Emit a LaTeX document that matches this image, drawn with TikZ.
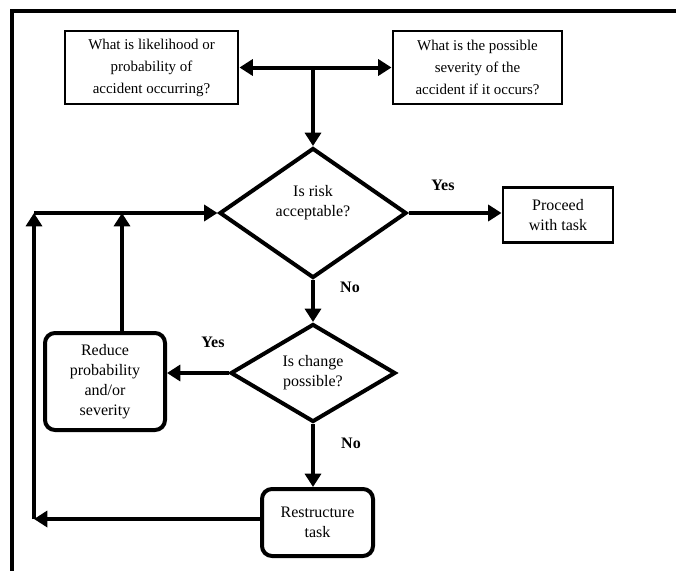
\documentclass[tikz,border=0pt]{standalone}
\usepackage{fontspec}
\setmainfont{Liberation Serif}
\usepackage{tikz}
\usetikzlibrary{arrows.meta, shapes.geometric}

\begin{document}
\begin{tikzpicture}[x=0.75pt,y=-0.75pt,line width=3pt,>={Triangle[length=10pt,width=12pt]},
  font=\fontsize{12}{15}\selectfont,
  plain box/.style={rectangle,draw,line width=2.2pt,align=center,inner sep=0pt},
  round box/.style={rectangle,draw,rounded corners=7.5pt,align=center,inner sep=0pt},
  test/.style={diamond,draw,shape aspect=1.6,align=center,inner sep=0pt},
  question/.style={plain box,font=\fontsize{11.2}{16.5}\selectfont},
  answer/.style={font=\fontsize{12}{15}\selectfont\bfseries}]

  \useasboundingbox (0,0) rectangle (676,571);
  \draw (12,571) -- (12,10.5) -- (676,10.5);

  \node[question,minimum width=129.75pt,minimum height=54.75pt] (likely) at (151.5,67.5)
    {What is likelihood or\\probability of\\accident occurring?};
  \node[question,minimum width=126.75pt,minimum height=54.75pt] (severe) at (477.5,67.5)
    {What is the possible\\severity of the\\accident if it occurs?};
  \node[test,minimum width=140.25pt,minimum height=97.5pt] (risk) at (313,213)
    {Is risk\\acceptable?\\[3pt]};
  \node[plain box,minimum width=82.5pt,minimum height=41.25pt] (proceed) at (558,215)
    {Proceed\\with task};
  \node[test,minimum width=123.75pt,minimum height=73.5pt] (change) at (313,373)
    {Is change\\possible?};
  \node[round box,minimum width=90pt,minimum height=72.75pt] (reduce) at (105,381.5)
    {Reduce\\probability\\and/or\\severity};
  \node[round box,minimum width=83.25pt,minimum height=50.25pt] (restructure) at (317.5,522.5)
    {Restructure\\task};

  \coordinate (looptop) at (34,213);
  \coordinate (loopbot) at (34,519);
  \coordinate (riser) at (122,213);

  % answers
  \node[answer] (yes1) at (443,185) {Yes};
  \node[answer] (no1) at (350,287) {No};
  \node[answer] (yes2) at (213,342) {Yes};
  \node[answer] (no2) at (351,443) {No};

  \draw[<->] (likely) -- (severe);
  \draw[->] (risk.north |- likely.east) -- (risk.north);
  \draw[->] (risk.east) -- (risk.east -| proceed.west);
  \draw[->] (risk.south) -- (change.north);
  \draw[->] (change.west) -- (change.west -| reduce.east);
  \draw[->] (change.south) -- (change.south |- restructure.north);
  \draw[->] (riser |- reduce.north) -- (riser);
  \draw[->] (restructure.west |- loopbot) -- (loopbot);
  \draw[->] (loopbot) -- (looptop);
  \draw[->] (looptop) -- (risk.west);
\end{tikzpicture}
\end{document}
